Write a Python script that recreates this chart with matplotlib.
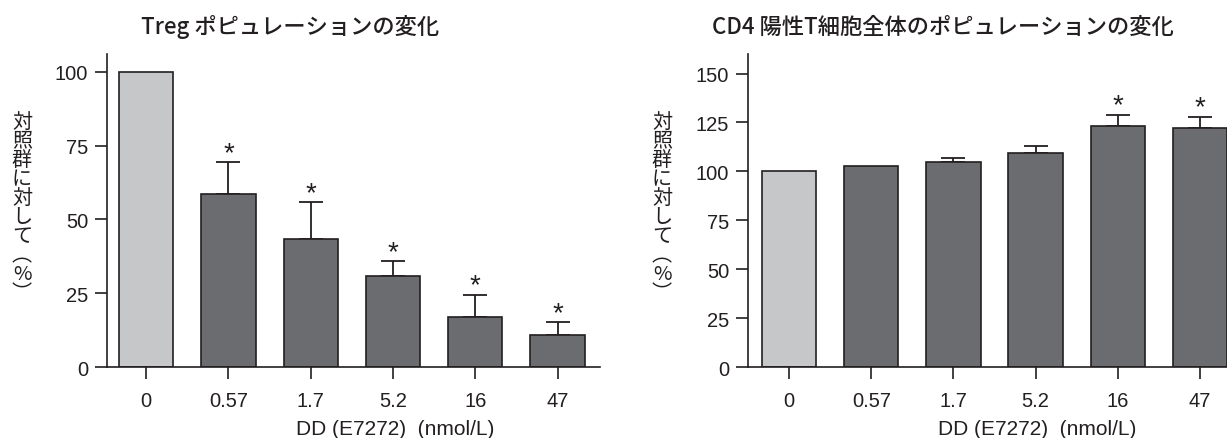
import matplotlib.pyplot as plt
import numpy as np

# 濃度 (nmol/L)
doses = ["0", "0.57", "1.7", "5.2", "16", "47"]

# Treg: 対照群に対する割合 (%) と SD
treg_mean = [100, 58.6, 43.4, 30.7, 16.9, 10.7]
treg_err = [0, 10.8, 12.4, 5.1, 7.6, 4.4]
treg_sig = [False, True, True, True, True, True]

# CD4陽性T細胞全体
cd4_mean = [100, 103, 105, 109.3, 123, 122]
cd4_err = [0, 0, 2.0, 3.5, 6.0, 6.0]
cd4_sig = [False, False, False, False, True, True]

LIGHT = "#c6c7c9"
DARK = "#6b6c70"
INK = "#231f20"
JP = ["Noto Sans CJK JP", "DejaVu Sans"]
NUM = ["Liberation Sans", "DejaVu Sans"]

W, H = 1227, 439
fig = plt.figure(figsize=(W / 100, H / 100), dpi=100)


def px_axes(x0, x1, y_top, y_bot):
    return fig.add_axes([x0 / W, 1 - y_bot / H, (x1 - x0) / W, (y_bot - y_top) / H])


def draw_panel(ax, mean, err, sig, ymax, yticks, xlim):
    x = np.arange(len(doses))
    colors = [LIGHT] + [DARK] * (len(doses) - 1)
    ax.bar(x, mean, width=0.66, color=colors, edgecolor=INK, linewidth=1.2, zorder=2)
    err = np.array(err)
    has = err > 0
    ax.errorbar(x[has], np.array(mean)[has], yerr=[np.zeros(has.sum()), err[has]],
                fmt="none", ecolor=INK, elinewidth=1.3, capsize=8.3, capthick=1.3, zorder=1)
    for i in range(len(doses)):
        if sig[i]:
            ax.annotate("*", xy=(x[i], mean[i] + err[i]), xytext=(0, 1.5),
                        textcoords="offset points", ha="center", va="baseline",
                        fontsize=20, color=INK, family=NUM)
    ax.set_xlim(*xlim)
    ax.set_ylim(0, ymax)
    ax.set_xticks(x)
    ax.set_xticklabels(doses)
    ax.set_yticks(yticks)
    for s in ["top", "right"]:
        ax.spines[s].set_visible(False)
    for s in ["left", "bottom"]:
        ax.spines[s].set_linewidth(1.2)
        ax.spines[s].set_color(INK)
    ax.tick_params(axis="both", length=8.6, width=1.2, color=INK, labelcolor=INK,
                   labelsize=14.5)
    ax.tick_params(axis="x", pad=8.5)
    ax.tick_params(axis="y", pad=5)
    for lab in ax.get_xticklabels() + ax.get_yticklabels():
        lab.set_family(NUM)


ax1 = px_axes(107, 600, 55, 368)
draw_panel(ax1, treg_mean, treg_err, treg_sig, 106, [0, 25, 50, 75, 100], (-0.475, 5.515))

ax2 = px_axes(748, 1241, 55, 368)
draw_panel(ax2, cd4_mean, cd4_err, cd4_sig, 160, [0, 25, 50, 75, 100, 125, 150], (-0.5, 5.5))

# タイトル
fig.text(290 / W, 1 - 27 / H, "Treg ポピュレーションの変化", ha="center", va="center",
         fontsize=16, fontweight="medium", family=JP, color=INK)
fig.text(943 / W, 1 - 27 / H, "CD4 陽性T細胞全体のポピュレーションの変化", ha="center",
         va="center", fontsize=16, fontweight="medium", family=JP, color=INK)

# 縦書きの軸ラベル
ylab = "\n".join("対照群に対して︵%︶")
for xc in (22, 662):
    fig.text(xc / W, 1 - 208 / H, ylab, ha="center", va="center", fontsize=14.5,
             linespacing=0.88, family=JP, color=INK)

# 横軸ラベル
for xc in (395, 1037):
    fig.text(xc / W, 1 - 430 / H, "DD (E7272)  (nmol/L)", ha="center", va="center",
             fontsize=15, family=NUM, color=INK)

fig.savefig("out.png", dpi=100)
